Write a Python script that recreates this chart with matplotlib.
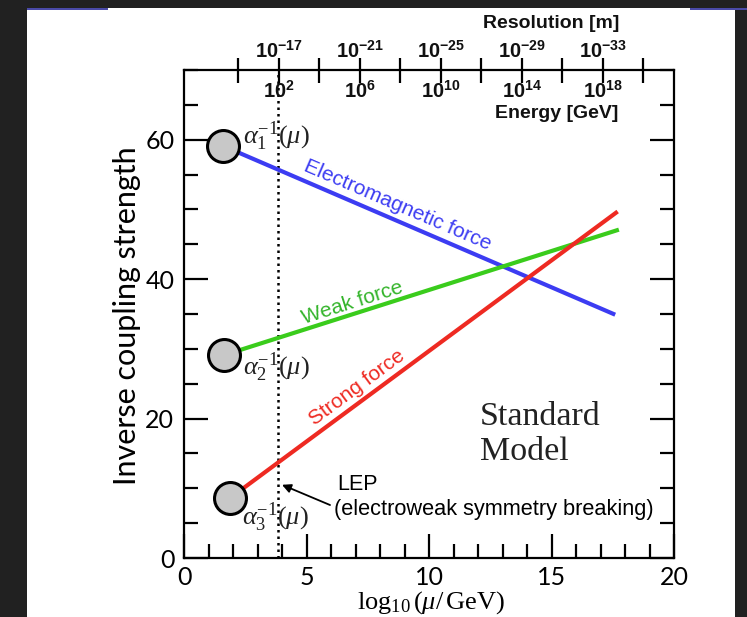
import numpy as np
import matplotlib
matplotlib.use("Agg")
import matplotlib.pyplot as plt
import matplotlib.transforms as mtransforms
from matplotlib.patches import Rectangle
from matplotlib.ticker import MultipleLocator, FixedLocator, NullFormatter

plt.rcParams['mathtext.fontset'] = 'custom'
plt.rcParams['mathtext.rm'] = 'Liberation Serif'
plt.rcParams['mathtext.it'] = 'Liberation Serif:italic'
plt.rcParams['mathtext.bf'] = 'Liberation Serif:bold'
plt.rcParams['mathtext.sf'] = 'Liberation Sans:bold'

# ---------------- data ----------------
forces = ["Electromagnetic force", "Weak force", "Strong force"]
coupling_labels = [r"$\alpha_1^{-1}(\mu)$", r"$\alpha_2^{-1}(\mu)$", r"$\alpha_3^{-1}(\mu)$"]
line_x_start = [1.60, 1.63, 1.88]
line_y_start = [59.1, 29.1, 8.6]
line_x_end = [17.6, 17.75, 17.7]
line_y_end = [34.9, 47.1, 49.7]
line_colors = ["#3c3cf2", "#3acc1c", "#ee2a22"]
text_colors = ["#3c3cf2", "#33b42a", "#ee2a22"]

lep_x = 3.85
energy_exps = [2, 6, 10, 14, 18]
energy_minor = [0, 4, 8, 12, 16, 20]
resolution_exps = [-17, -21, -25, -29, -33]
top_xlim = (-2.69, 21.51)

x_ticks = [0, 5, 10, 15, 20]
y_ticks = [0, 20, 40, 60]

# ---------------- figure ----------------
fig = plt.figure(figsize=(7.47, 6.17), dpi=100, facecolor="#212121")
fig.patches.append(Rectangle((27/747, 0), (735-27)/747, (617-8)/617,
                             transform=fig.transFigure, facecolor="white",
                             edgecolor="none", zorder=-10))
fig.patches.append(Rectangle((27/747, (617-10)/617), (108-27)/747, 2/617,
                             transform=fig.transFigure, facecolor="#4a4aa8",
                             edgecolor="none", zorder=-9))
fig.patches.append(Rectangle((690/747, (617-10)/617), (747-690)/747, 2/617,
                             transform=fig.transFigure, facecolor="#4a4aa8",
                             edgecolor="none", zorder=-9))

ax = fig.add_axes([184/747, 59/617, 490/747, 488/617])
ax.set_facecolor("none")
ax.set_xlim(0, 20)
ax.set_ylim(0, 70)

for s in ax.spines.values():
    s.set_linewidth(1.6)

ax.xaxis.set_major_locator(FixedLocator(x_ticks))
ax.xaxis.set_minor_locator(MultipleLocator(1))
ax.yaxis.set_major_locator(FixedLocator(y_ticks))
ax.yaxis.set_minor_locator(MultipleLocator(5))
ax.tick_params(axis='both', which='major', direction='in', length=17, width=1.6,
               labelsize=18, top=False, right=True)
ax.tick_params(axis='both', which='minor', direction='in', length=10, width=1.6,
               top=False, right=True)
ax.tick_params(axis='x', which='major', pad=6)
ax.tick_params(axis='y', which='major', pad=7)
for lab in ax.get_xticklabels() + ax.get_yticklabels():
    lab.set_family("Lato")

ax.set_ylabel("Inverse coupling strength", family="Lato", fontsize=22)
ax.yaxis.set_label_coords(-0.088, 0.497)
ax.set_xlabel(r"$\log_{10}(\mu/\,\mathrm{GeV})$", fontsize=19)
ax.xaxis.set_label_coords(0.504, -0.064)

# dotted LEP line
ax.axvline(lep_x, color="black", lw=1.8, ls=(0, (1, 1.6)), zorder=2)

# running coupling lines
for i in range(3):
    ax.plot([line_x_start[i], line_x_end[i]], [line_y_start[i], line_y_end[i]],
            color=line_colors[i], lw=3.0, solid_capstyle='butt', zorder=3)
    ax.plot([line_x_start[i]], [line_y_start[i]], 'o', ms=23, mfc="#c8c8c8",
            mec="black", mew=2.2, zorder=4)

# rotated force labels
def screen_angle(i):
    p0 = ax.transData.transform((line_x_start[i], line_y_start[i]))
    p1 = ax.transData.transform((line_x_end[i], line_y_end[i]))
    return np.degrees(np.arctan2(p1[1] - p0[1], p1[0] - p0[0]))

force_text_pos = [(8.73, 50.6), (6.86, 36.6), (7.06, 24.4)]
for i in range(3):
    ax.text(force_text_pos[i][0], force_text_pos[i][1], forces[i],
            rotation=screen_angle(i), rotation_mode='anchor', ha='center', va='center',
            color=text_colors[i], family="Liberation Sans", fontsize=15, zorder=5)

# alpha labels
alpha_pos = [(2.41, 60.5), (2.41, 27.4), (2.38, 5.8)]
for i in range(3):
    ax.text(alpha_pos[i][0], alpha_pos[i][1], coupling_labels[i], fontsize=19,
            ha='left', va='center', color="#222222", zorder=5)

ax.text(12.08, 17.7, "Standard\nModel", family="Liberation Serif", fontsize=24.5,
        ha='left', va='center', linespacing=1.2, color="#222222")

ax.text(6.24, 10.5, "LEP", family="Liberation Sans", fontsize=15.5, ha='left', va='center')
ax.text(6.12, 6.9, "(electroweak symmetry breaking)", family="Liberation Sans",
        fontsize=15.7, ha='left', va='center')
ax.annotate('', xy=(4.0, 10.5), xytext=(5.96, 7.6),
            arrowprops=dict(arrowstyle='-|>', color='black', lw=1.3, mutation_scale=13,
                            shrinkA=0, shrinkB=0))

# ---------------- top axis ----------------
axt = ax.twiny()
axt.set_xlim(*top_xlim)
axt.xaxis.set_major_locator(FixedLocator(energy_exps))
axt.xaxis.set_minor_locator(FixedLocator(energy_minor))
axt.xaxis.set_major_formatter(NullFormatter())
axt.tick_params(axis='x', which='both', direction='inout', length=18, width=1.6,
                top=True, bottom=False, labeltop=False, labelbottom=False)
for s in axt.spines.values():
    s.set_visible(False)

bt = mtransforms.blended_transform_factory(axt.transData, ax.transAxes)
for e, r in zip(energy_exps, resolution_exps):
    axt.text(e, 1.017, r"$\mathsf{10^{%d}}$" % r, transform=bt, ha='center', va='bottom',
             fontsize=14.5, color="#111111")
    axt.text(e, 0.979, r"$\mathsf{10^{%d}}$" % e, transform=bt, ha='center', va='top',
             fontsize=14.5, color="#111111")

fig.text(551/747, 1 - 23/617, "Resolution [m]", family="Liberation Sans", weight='bold',
         fontsize=14, ha='center', va='center', color="#111111")
fig.text(557/747, 1 - 113/617, "Energy [GeV]", family="Liberation Sans", weight='bold',
         fontsize=14, ha='center', va='center', color="#111111")

fig.savefig("out.png", dpi=100, facecolor=fig.get_facecolor())
